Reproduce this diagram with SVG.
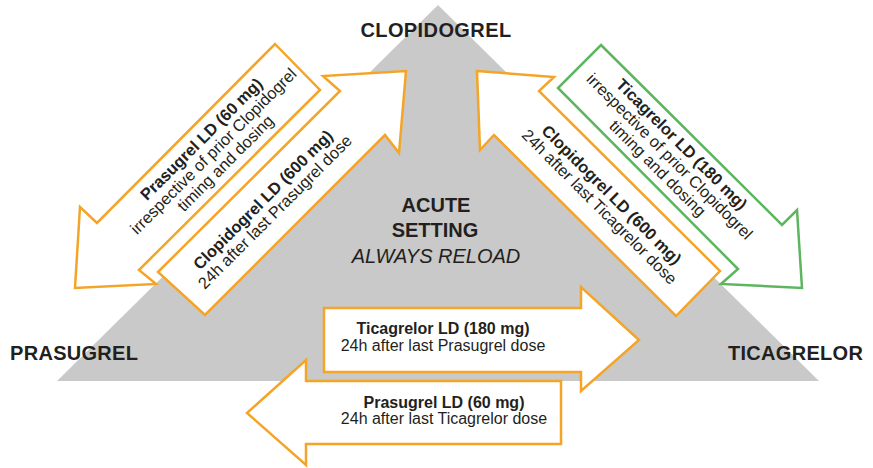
<svg xmlns="http://www.w3.org/2000/svg" width="873" height="468" viewBox="0 0 873 468">
<style>
text{font-family:"Liberation Sans",Arial,Helvetica,sans-serif;fill:#231f20}
.node{font-size:20px;font-weight:bold}
.b{font-size:16px;font-weight:bold}
.r{font-size:16px}
.rb{font-size:16.4px;font-weight:bold}
.rr{font-size:16.4px}
.arr{fill:#ffffff;stroke:#f4a427;stroke-width:2.5;stroke-linejoin:miter}
.grn{fill:#ffffff;stroke:#5db55f;stroke-width:2.5;stroke-linejoin:miter}
</style>
<rect width="873" height="468" fill="#ffffff"/>
<g id="setting">
<polygon points="438,5 819,381 57,381" fill="#c8c9c8"/>
<text x="436" y="212" text-anchor="middle" class="node">ACUTE</text>
<text x="435" y="237" text-anchor="middle" class="node">SETTING</text>
<text x="436" y="263" text-anchor="middle" style="font-size:20px;font-style:italic">ALWAYS RELOAD</text>
</g>
<g id="node-clopidogrel"><text x="436" y="37" text-anchor="middle" class="node" style="letter-spacing:0.4px">CLOPIDOGREL</text></g>
<g id="node-prasugrel"><text x="10" y="360" class="node" style="letter-spacing:0.3px">PRASUGREL</text></g>
<g id="node-ticagrelor"><text x="728" y="360" class="node" style="letter-spacing:0.3px">TICAGRELOR</text></g>
<g id="connectors">
<g id="c-clop-pras">
<polygon class="arr" points="275,44 320,90 139,270 156,284 75,288 80,207 97,223"/>
<g transform="translate(213.4,151.2) rotate(-45)" text-anchor="middle">
<text y="-11.5" class="rb">Prasugrel LD (60 mg)</text>
<text y="5.5" class="rr">irrespective of prior Clopidogrel</text>
<text y="22.5" class="rr">timing and dosing</text>
</g>
</g>
<g id="c-pras-clop">
<polygon class="arr" points="158,272 340,91 323,76 406,71 399,153 385,135 205,315"/>
<g transform="translate(269,206) rotate(-45)" text-anchor="middle">
<text y="-3" class="rb">Clopidogrel LD (600 mg)</text>
<text y="14" class="rr">24h after last Prasugrel dose</text>
</g>
</g>
<g id="c-tica-clop">
<polygon class="arr" points="477,71 554,77 539,91 720,271 676,316 494,135 480,150"/>
<g transform="translate(605.4,200.8) rotate(45)" text-anchor="middle">
<text y="-3" class="rb">Clopidogrel LD (600 mg)</text>
<text y="14" class="rr">24h after last Ticagrelor dose</text>
</g>
</g>
<g id="c-clop-tica">
<polygon class="grn" points="601,45 782,225 797,210 802,288 721,284 738,269 558,88"/>
<g transform="translate(669.6,156.4) rotate(45)" text-anchor="middle">
<text y="-11.5" class="rb">Ticagrelor LD (180 mg)</text>
<text y="5.5" class="rr">irrespective of prior Clopidogrel</text>
<text y="22.5" class="rr">timing and dosing</text>
</g>
</g>
<g id="c-pras-tica">
<polygon class="arr" points="324,308 581,308 581,287 639,340 581,391 581,372 324,372"/>
<text x="443" y="334" text-anchor="middle" class="b">Ticagrelor LD (180 mg)</text>
<text x="443" y="351" text-anchor="middle" class="r">24h after last Prasugrel dose</text>
</g>
<g id="c-tica-pras">
<polygon class="arr" points="561,381 306,381 306,360 247,413 306,465 306,444 561,444"/>
<text x="444" y="408" text-anchor="middle" class="b">Prasugrel LD (60 mg)</text>
<text x="444" y="424" text-anchor="middle" class="r">24h after last Ticagrelor dose</text>
</g>
</g>
</svg>
